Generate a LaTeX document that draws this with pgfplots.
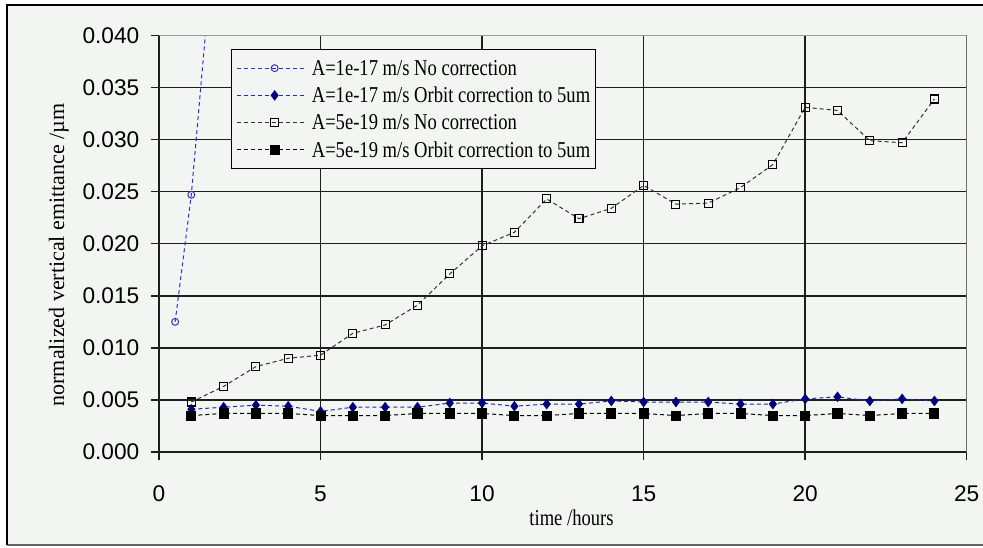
\documentclass[border=0pt]{standalone}
\usepackage{pgfplots}
\pgfplotsset{compat=1.18}
\usepackage{fontspec}
\setmainfont{Liberation Serif}
\newfontfamily\condfont[FakeStretch=0.82]{Liberation Serif}
\newfontfamily\tickfont{Liberation Sans}
\definecolor{bg}{RGB}{242,245,242}
\definecolor{sA}{RGB}{51,51,204}
\definecolor{sB}{RGB}{0,0,128}
\definecolor{sBl}{RGB}{40,40,170}
\definecolor{sC}{RGB}{50,50,50}
\definecolor{gridc}{RGB}{30,30,30}
\begin{document}
\begin{tikzpicture}
% page and chart frame (1px = 0.75pt, origin = plot area lower left)
\useasboundingbox (-119.25pt,-71.25pt) rectangle (618pt,339pt);
\fill[white] (-119.25pt,-71.25pt) rectangle (618pt,339pt);
\fill[bg] (-114pt,-69.75pt) rectangle (618pt,335.25pt);
\draw[black!60, line width=0.8pt] (-114pt,-69.75pt) -- (618pt,-69.75pt);
\draw[black, line width=1.6pt] (-114pt,-70pt) -- (-114pt,335.25pt) -- (618pt,335.25pt);
\begin{axis}[
  at={(0pt,0pt)}, anchor=south west,
  scale only axis, width=605.8pt, height=312.4pt,
  xmin=0, xmax=25, ymin=0, ymax=0.04,
  xtick={0,5,...,25},
  ytick={0,0.005,...,0.04},
  scaled y ticks=false,
  yticklabel style={/pgf/number format/fixed, /pgf/number format/fixed zerofill, /pgf/number format/precision=3, xshift=-5.25pt},
  /pgf/number format/assume math mode=true,
  tick align=outside, xtick pos=bottom, ytick pos=left,
  major tick length=6pt,
  tick style={gridc, line width=1.1pt},
  grid=major,
  major grid style={gridc, line width=1.1pt},
  axis line style={gridc, line width=1.1pt},
  ticklabel style={font=\tickfont\fontsize{17}{20}\selectfont},
  xticklabel style={yshift=-15.75pt},
  xlabel={time /hours},
  ylabel={normalized vertical emittance /\textmu m},
  xlabel style={font=\condfont\fontsize{17}{20}\selectfont, at={(axis description cs:0.5107,-0.1585)}, anchor=center},
  ylabel style={font=\fontsize{16.5}{20}\selectfont, at={(axis description cs:-0.124,0.473)}, anchor=center},
  legend style={at={(0.0891,0.9676)}, anchor=north west, draw=black, line width=0.8pt,
    fill=bg, font=\condfont\fontsize{17}{20}\selectfont, inner xsep=3.75pt, inner ysep=6pt,
    row sep=4.4pt, column sep=4.5pt,
    nodes={inner sep=0pt, text height=13.5pt, text depth=2.5pt, line width=0.75pt}},
  legend cell align=left,
  legend image code/.code={\path (0pt,0pt) -- (51.25pt,0pt); \draw[mark repeat=2,mark phase=2] plot coordinates {(5.25pt,0pt) (28.25pt,0pt) (51.25pt,0pt)};},
  clip mode=global,
]
\addplot[sA, line width=0.75pt, dash pattern=on 3pt off 2.25pt,
  mark=o, mark size=2.6pt, mark options={solid, line width=0.75pt}]
  coordinates {(0.5,0.0125) (1,0.0247) (2,0.060)};
\addlegendentry{A=1e-17 m/s No correction}
\addplot[sBl, line width=0.75pt, dash pattern=on 3pt off 2.25pt,
  mark=diamond*, mark size=3.4pt, mark options={solid, draw=sB, fill=sB}]
  coordinates {(1,0.0041) (2,0.0043) (3,0.0045) (4,0.0044) (5,0.0039) (6,0.0043)
  (7,0.0043) (8,0.0043) (9,0.0047) (10,0.0047) (11,0.0044) (12,0.0046)
  (13,0.0046) (14,0.0049) (15,0.0048) (16,0.0048) (17,0.0048) (18,0.0046)
  (19,0.0046) (20,0.0051) (21,0.0053) (22,0.0049) (23,0.0051) (24,0.0049)};
\addlegendentry{A=1e-17 m/s Orbit correction to 5um}
\addplot[sC, line width=0.75pt, dash pattern=on 3pt off 2.25pt,
  mark=square, mark size=3pt, mark options={solid, black, line width=0.8pt}]
  coordinates {(1,0.0048) (2,0.0063) (3,0.0082) (4,0.0090) (5,0.0093) (6,0.0114)
  (7,0.0122) (8,0.0141) (9,0.0171) (10,0.0198) (11,0.0211) (12,0.0243)
  (13,0.0224) (14,0.0234) (15,0.0256) (16,0.0238) (17,0.0239) (18,0.0254)
  (19,0.0276) (20,0.0331) (21,0.0328) (22,0.0299) (23,0.0297) (24,0.0339)};
\addlegendentry{A=5e-19 m/s No correction}
\addplot[black, line width=0.75pt, dash pattern=on 3pt off 2.25pt,
  mark=square*, mark size=3.4pt, mark options={solid, fill=black}]
  coordinates {(1,0.0035) (2,0.0037) (3,0.0037) (4,0.0037) (5,0.0035) (6,0.0035)
  (7,0.0035) (8,0.0037) (9,0.0037) (10,0.0037) (11,0.0035) (12,0.0035)
  (13,0.0037) (14,0.0037) (15,0.0037) (16,0.0035) (17,0.0037) (18,0.0037)
  (19,0.0035) (20,0.0035) (21,0.0037) (22,0.0035) (23,0.0037) (24,0.0037)};
\addlegendentry{A=5e-19 m/s Orbit correction to 5um}
\draw[black!40, line width=1.1pt] (rel axis cs:0,1) -- (rel axis cs:1,1) -- (rel axis cs:1,0);
\end{axis}
\end{tikzpicture}
\end{document}
